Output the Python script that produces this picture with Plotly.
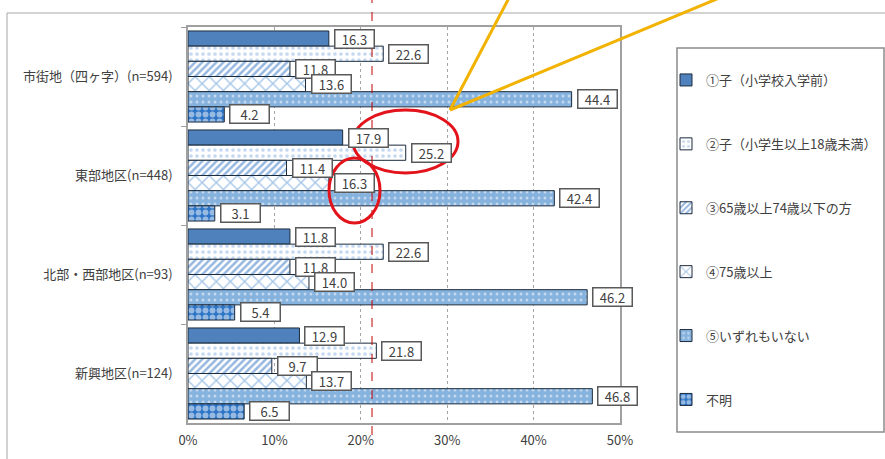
import plotly.graph_objects as go

# ---- data -------------------------------------------------------------
regions = ["市街地（四ヶ字）(n=594)", "東部地区(n=448)", "北部・西部地区(n=93)", "新興地区(n=124)"]
series_names = [
    "①子（小学校入学前）",
    "②子（小学生以上18歳未満）",
    "③65歳以上74歳以下の方",
    "④75歳以上",
    "⑤いずれもいない",
    "不明",
]
child_preschool = [16.3, 17.9, 11.8, 12.9]
child_school = [22.6, 25.2, 22.6, 21.8]
age_65_74 = [11.8, 11.4, 11.8, 9.7]
age_75_plus = [13.6, 16.3, 14.0, 13.7]
none_of_these = [44.4, 42.4, 46.2, 46.8]
unknown = [4.2, 3.1, 5.4, 6.5]
x_ticks = [0, 10, 20, 30, 40, 50]
x_tick_labels = [f"{v}%" for v in x_ticks]
reference_pct = 21.3

series_values = [child_preschool, child_school, age_65_74, age_75_plus, none_of_these, unknown]

# ---- styling ----------------------------------------------------------
FONT = "Noto Sans CJK JP"
TEXT = "#404040"
EDGE = "#1C2B3C"
styles = [
    dict(color="#4F81BD", pattern=dict(shape="")),
    dict(color="white", pattern=dict(shape=".", fgcolor="#8DB4E2", bgcolor="white", size=6, solidity=0.3)),
    dict(color="white", pattern=dict(shape="/", fgcolor="#2E6FC0", bgcolor="white", size=5, solidity=0.5)),
    dict(color="white", pattern=dict(shape="x", fgcolor="#4A8BD0", bgcolor="white", size=10, solidity=0.25)),
    dict(color="#86B2DE", pattern=dict(shape=".", fgcolor="white", bgcolor="#86B2DE", size=6, solidity=0.2)),
    dict(color="#2E75C6", pattern=dict(shape=".", fgcolor="white", bgcolor="#2E75C6", size=7, solidity=0.55)),
]

# plot-area geometry in pixels (used for the decorations outside data space)
W_FIG, H_FIG = 885, 459
L, R, T, B = 188, 620, 27, 423


def px(x):
    return (x - L) / (R - L)


def py(y):
    return (B - y) / (B - T)


BARGAP = 0.08
n_series = len(series_values)
bar_w = (1 - BARGAP) / n_series

fig = go.Figure()
for j, (name, vals, st) in enumerate(zip(series_names, series_values, styles)):
    fig.add_trace(go.Bar(
        y=regions, x=vals, name=name, orientation="h",
        legendgroup=name,
        marker=dict(color=st["color"], pattern=st["pattern"], line=dict(color=EDGE, width=1)),
        hoverinfo="x+name",
    ))

# value boxes next to each bar
annotations = []
for j, vals in enumerate(series_values):
    offset = -(1 - BARGAP) / 2 + (j + 0.5) * bar_w
    for i, v in enumerate(vals):
        annotations.append(dict(
            x=v, y=i + offset, xref="x", yref="y",
            text=f"{v:.1f}", showarrow=False,
            xanchor="left", yanchor="middle", xshift=5,
            font=dict(family=FONT, size=13, color=TEXT),
            bgcolor="white", bordercolor="#595959", borderwidth=1.5, borderpad=1,
            width=36, height=15,
        ))

shapes = [
    # outer chart frame
    dict(type="line", xref="paper", yref="paper", x0=px(7), x1=px(W_FIG + 5), y0=py(13), y1=py(13),
         line=dict(color="#A6A6A6", width=1)),
    dict(type="line", xref="paper", yref="paper", x0=px(7), x1=px(7), y0=py(13), y1=py(H_FIG + 5),
         line=dict(color="#A6A6A6", width=1)),
    # legend frame
    dict(type="rect", xref="paper", yref="paper", x0=px(677), x1=px(884), y0=py(48), y1=py(432),
         line=dict(color="#8C8C8C", width=1.5), fillcolor="rgba(0,0,0,0)"),
    # reference line
    dict(type="line", xref="x", yref="paper", x0=reference_pct, x1=reference_pct, y0=py(435), y1=py(-2),
         line=dict(color="#C00000", width=1, dash="dash")),
    # highlight ellipses
    dict(type="circle", xref="paper", yref="paper", x0=px(353), x1=px(458), y0=py(110), y1=py(173),
         line=dict(color="#E3131B", width=3)),
    dict(type="circle", xref="paper", yref="paper", x0=px(329), x1=px(380), y0=py(158), y1=py(223),
         line=dict(color="#E3131B", width=3)),
    # callout lines
    dict(type="line", xref="paper", yref="paper", x0=px(450), y0=py(110), x1=px(510), y1=py(-4),
         line=dict(color="#F2B200", width=3)),
    dict(type="line", xref="paper", yref="paper", x0=px(450), y0=py(110), x1=px(724), y1=py(-4),
         line=dict(color="#F2B200", width=3)),
]

fig.update_layout(
    width=W_FIG, height=H_FIG,
    margin=dict(l=L, r=W_FIG - R, t=T, b=H_FIG - B, autoexpand=False),
    paper_bgcolor="white", plot_bgcolor="white",
    barmode="group", bargap=BARGAP, bargroupgap=0,
    font=dict(family=FONT, size=13, color=TEXT),
    annotations=annotations, shapes=shapes,
    legend=dict(
        xref="container", yref="container",
        x=666 / W_FIG, y=1 - 65 / H_FIG, xanchor="left", yanchor="top",
        traceorder="grouped", tracegroupgap=44, maxheight=420,
        font=dict(family=FONT, size=13, color=TEXT),
        bgcolor="rgba(0,0,0,0)", borderwidth=0,
    ),
    showlegend=True,
)
fig.update_xaxes(
    range=[0, 50], tickmode="array", tickvals=x_ticks, ticktext=x_tick_labels,
    showgrid=True, gridcolor="#A6A6A6", griddash="dot", gridwidth=1,
    showline=True, linecolor="#A0A0A0", linewidth=1.5, mirror=True,
    ticks="", zeroline=False, ticklabelstandoff=5,
    tickfont=dict(family=FONT, size=13, color=TEXT),
)
fig.update_yaxes(
    autorange="reversed", type="category",
    showline=True, linecolor="#A0A0A0", linewidth=1.5, mirror=True,
    ticks="outside", tickson="boundaries", ticklen=5, tickcolor="#A0A0A0",
    ticklabelstandoff=11, showgrid=False,
    tickfont=dict(family=FONT, size=13, color=TEXT),
)

fig.write_html("out.html")
